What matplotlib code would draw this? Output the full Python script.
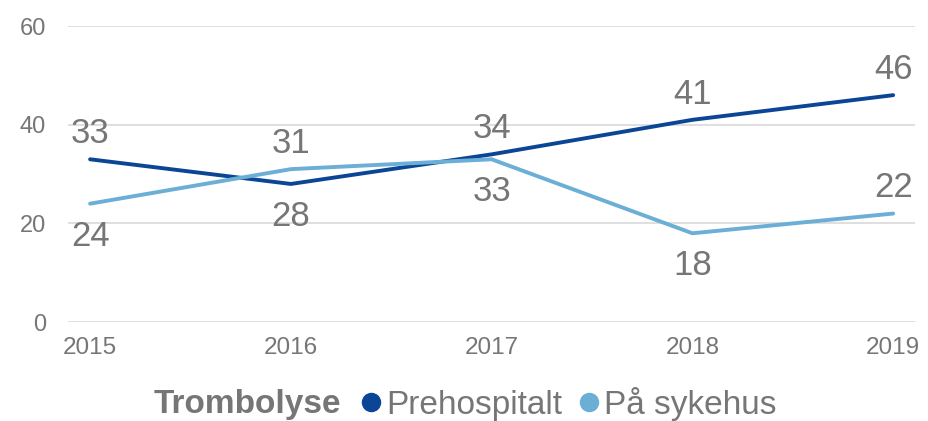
import matplotlib.pyplot as plt
from matplotlib.lines import Line2D

plt.rcParams['font.family'] = ['Liberation Sans', 'DejaVu Sans']

years = ['2015', '2016', '2017', '2018', '2019']
prehospitalt = [33, 28, 34, 41, 46]
sykehus = [24, 31, 33, 18, 22]
# label above (+1) or below (-1) the point
pre_side = [1, -1, 1, 1, 1]
syk_side = [-1, 1, -1, -1, 1]

dark = '#0B4596'
light = '#6BAED6'
grey = '#767676'


def offset(side):
    return 18.5 if side > 0 else -23.5


fig = plt.figure(figsize=(9.29, 4.21), dpi=100)
ax = fig.add_axes([0.0732, 0.235, 0.912, 0.703])

x = range(len(years))
ax.plot(x, prehospitalt, color=dark, linewidth=2.8, solid_capstyle='round', zorder=3)
ax.plot(x, sykehus, color=light, linewidth=2.8, solid_capstyle='round', zorder=3)

for i in x:
    ax.annotate(str(prehospitalt[i]), (i, prehospitalt[i]), xytext=(0, offset(pre_side[i])),
                textcoords='offset points', ha='center', va='center', fontsize=25, color=grey)
    ax.annotate(str(sykehus[i]), (i, sykehus[i]), xytext=(0, offset(syk_side[i])),
                textcoords='offset points', ha='center', va='center', fontsize=25, color=grey)

ax.set_xlim(-0.11, 4.11)
ax.set_ylim(0, 60)
ax.set_yticks([0, 20, 40, 60])
ax.set_xticks(list(x))
ax.set_xticklabels(years)
ax.grid(axis='y', color='#D9D9D9', linewidth=1.2)
ax.set_axisbelow(True)
for s in ax.spines.values():
    s.set_visible(False)
ax.tick_params(length=0, labelcolor=grey)
ax.tick_params(axis='x', pad=11, labelsize=17.5)
ax.tick_params(axis='y', pad=16, labelsize=17)

fig.text(0.165, 0.040, 'Trombolyse', fontsize=24, fontweight='bold', color=grey,
         ha='left', va='center')
handles = [Line2D([], [], marker='o', linestyle='', color=dark, markersize=13),
           Line2D([], [], marker='o', linestyle='', color=light, markersize=13)]
fig.legend(handles, ['Prehospitalt', 'På sykehus'], ncol=2, loc='center left',
           bbox_to_anchor=(0.389, 0.040), frameon=False, fontsize=24,
           labelcolor=grey, handlelength=0.6, handletextpad=0.15, columnspacing=0.5,
           borderpad=0, borderaxespad=0)

fig.savefig('out.png', dpi=100)
